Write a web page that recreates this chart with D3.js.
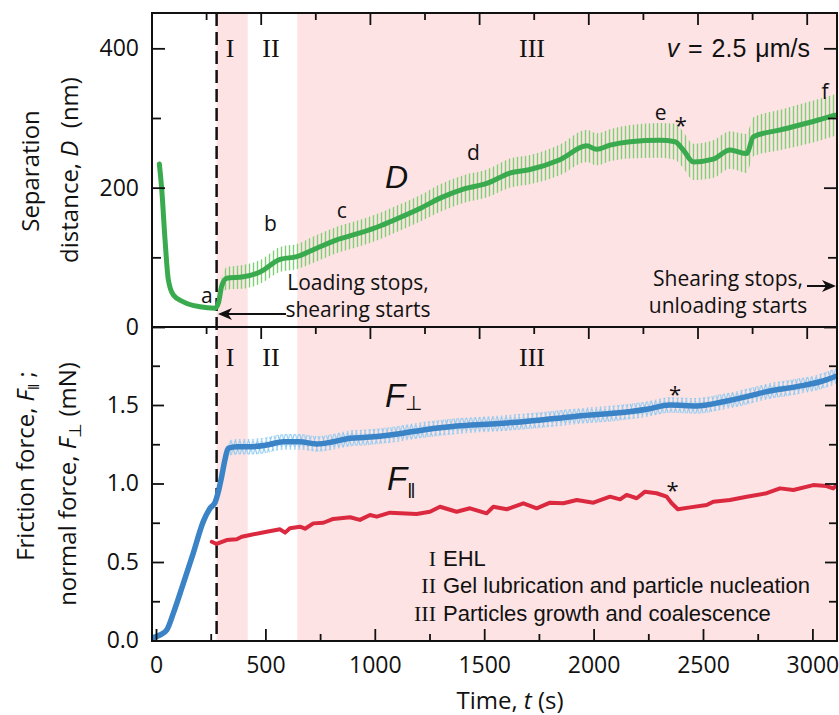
<!DOCTYPE html>
<html>
<head>
<meta charset="utf-8">
<script src="https://cdn.jsdelivr.net/npm/d3@7"></script>
<style>
  body { margin: 0; background: #fff; }
  text { fill: #111; }
</style>
</head>
<body>
<div id="chart"></div>
<script>
// ---- values ----
// separation distance D (nm) vs time (s), top panel
const dTime = [36, 47, 62, 77, 100, 146, 222, 291, 306, 321, 344, 420, 497, 588, 665, 756, 848, 955, 1046, 1092, 1229, 1321, 1428, 1535, 1641, 1733, 1870, 1993, 2038, 2099, 2191, 2328, 2397, 2435, 2481, 2572, 2649, 2725, 2756, 2880, 3030, 3129];
const dValue = [234, 197, 125, 68, 46, 36, 29, 27, 34, 58, 70, 72, 79, 97, 101, 113, 125, 135, 145, 151, 170, 185, 198, 206, 221, 226, 240, 260, 255, 261, 266, 268, 266, 254, 237, 241, 254, 249, 273, 283, 295, 304];
// half-width of the raw oscillation around D (nm)
const dSpread = [0, 0, 0, 0, 0, 0, 0, 0, 0, 12, 16, 17, 17, 18, 18, 19, 19, 19, 19, 19, 19, 20, 20, 20, 21, 21, 22, 23, 23, 23, 24, 25, 26, 26, 26, 27, 27, 28, 28, 29, 30, 30];

// normal force F_perp (mN)
const nTime = [-10, 18, 49, 79, 125, 170, 216, 247, 270, 285, 300, 315, 330, 369, 430, 506, 582, 658, 734, 810, 887, 963, 1069, 1222, 1374, 1527, 1679, 1831, 1984, 2090, 2243, 2349, 2471, 2593, 2700, 2791, 2928, 3035, 3111];
const nValue = [0.02, 0.035, 0.067, 0.173, 0.364, 0.555, 0.757, 0.842, 0.880, 0.948, 1.043, 1.150, 1.224, 1.234, 1.234, 1.245, 1.266, 1.266, 1.252, 1.266, 1.288, 1.294, 1.309, 1.341, 1.366, 1.379, 1.394, 1.415, 1.436, 1.447, 1.473, 1.500, 1.494, 1.521, 1.553, 1.585, 1.617, 1.648, 1.685];
const nSpread = [0, 0, 0, 0, 0, 0, 0, 0, 0, 0, 0, 0, 0.05, 0.05, 0.05, 0.05, 0.05, 0.05, 0.05, 0.05, 0.05, 0.05, 0.05, 0.05, 0.05, 0.05, 0.05, 0.05, 0.05, 0.05, 0.05, 0.05, 0.05, 0.05, 0.05, 0.05, 0.05, 0.05, 0.05];

// friction force F_par (mN)
const fTime = [255, 277, 323, 369, 392, 430, 506, 567, 590, 612, 658, 681, 719, 765, 810, 887, 932, 978, 1009, 1069, 1191, 1252, 1298, 1374, 1435, 1511, 1542, 1603, 1679, 1740, 1801, 1862, 1923, 1999, 2075, 2121, 2151, 2197, 2235, 2288, 2334, 2357, 2385, 2441, 2517, 2547, 2623, 2700, 2791, 2852, 2913, 3004, 3065, 3095, 3111];
const fValue = [0.629, 0.615, 0.640, 0.645, 0.661, 0.672, 0.693, 0.708, 0.687, 0.715, 0.725, 0.712, 0.746, 0.750, 0.774, 0.785, 0.768, 0.799, 0.789, 0.814, 0.806, 0.820, 0.852, 0.820, 0.842, 0.810, 0.852, 0.836, 0.874, 0.842, 0.878, 0.874, 0.895, 0.878, 0.916, 0.899, 0.927, 0.906, 0.948, 0.938, 0.916, 0.874, 0.836, 0.848, 0.863, 0.884, 0.895, 0.916, 0.938, 0.969, 0.959, 0.990, 0.984, 0.969, 0.990];

// regime boundaries (s): shearing starts, end of I, end of II
const phaseEdges = [277, 419, 646];

const xTicks = [0, 500, 1000, 1500, 2000, 2500, 3000];
const xMinor = [250, 750, 1250, 1750, 2250, 2750];
const dTicks = [0, 200, 400];
const dMinor = [100, 300];
const fTicks = [0, 0.5, 1.0, 1.5];
const fMinor = [0.25, 0.75, 1.25, 1.75];

// point labels: [text, time, value]
const dLabels = [["a", 253, 34], ["b", 545, 138], ["c", 871, 156], ["d", 1474, 240], ["e", 2331, 297], ["f", 3084, 327]];
const dStars = [[2424, 278]];
const fStars = [[2372, 1.521], [2361, 0.905]];

const legendRows = [["I", "EHL"], ["II", "Gel lubrication and particle nucleation"], ["III", "Particles growth and coalescence"]];

// ---- layout ----
const width = 839, height = 715;
const pL = 152, pR = 837, pT = 13, pM = 327, pB = 641;

const svg = d3.select("#chart").append("svg")
  .attr("width", width)
  .attr("height", height)
  .style("font-family", "'Open Sans', sans-serif");

// the two panels were stacked by hand, their time axes are off by a few px
const xTop = d3.scaleLinear().domain([0, 3000]).range([151.5, 806.7]);
const xBot = d3.scaleLinear().domain([0, 3000]).range([156, 812.4]);
const yTop = d3.scaleLinear().domain([0, 450]).range([pM, pT + 0.5]);
const yBot = d3.scaleLinear().domain([0, 2]).range([pB - 0.5, pM - 0.5]);

const defs = svg.append("defs");
defs.append("clipPath").attr("id", "clipTop").append("rect")
  .attr("x", pL).attr("y", pT).attr("width", pR - pL).attr("height", pM - pT);
defs.append("clipPath").attr("id", "clipBot").append("rect")
  .attr("x", pL).attr("y", pM).attr("width", pR - pL).attr("height", pB - pM);

// vertical hatch for the raw D signal
let pat = defs.append("pattern").attr("id", "greenHatch")
  .attr("patternUnits", "userSpaceOnUse").attr("width", 4).attr("height", 8);
pat.append("line").attr("x1", 1.5).attr("x2", 1.5).attr("y1", 0).attr("y2", 8)
  .attr("stroke", "#7fd074").attr("stroke-width", 1.4);

// zig-zag look for the raw normal force
pat = defs.append("pattern").attr("id", "blueHatch")
  .attr("patternUnits", "userSpaceOnUse").attr("width", 4.4).attr("height", 16);
pat.append("path").attr("d", "M0,0L4.4,16M4.4,0L0,16")
  .attr("stroke", "#88c9f2").attr("stroke-width", 1).attr("fill", "none");

// ---- shading of the regimes ----
const shaded = [[phaseEdges[0], phaseEdges[1]], [phaseEdges[2], xBot.invert(pR)]];
[[pT, pM], [pM, pB]].forEach(([y0, y1]) => {
  svg.append("g").selectAll("rect")
    .data(shaded)
    .join("rect")
      .attr("x", d => xBot(d[0]))
      .attr("width", d => xBot(d[1]) - xBot(d[0]))
      .attr("y", y0)
      .attr("height", y1 - y0)
      .attr("fill", "#fde3e3");
});

// dashed line where shearing starts
svg.append("line")
  .attr("x1", xBot(phaseEdges[0])).attr("x2", xBot(phaseEdges[0]))
  .attr("y1", pT).attr("y2", pB)
  .attr("stroke", "#111").attr("stroke-width", 2.5)
  .attr("stroke-dasharray", "13,6");

// ---- top panel data ----
const dData = dTime.map((t, i) => ({t: t, v: dValue[i], s: dSpread[i]}));
const gTop = svg.append("g").attr("clip-path", "url(#clipTop)");

gTop.append("path")
  .datum(dData)
  .attr("fill", "url(#greenHatch)")
  .attr("d", d3.area()
    .defined(d => d.s > 0)
    .x(d => xTop(d.t))
    .y0(d => yTop(d.v - d.s))
    .y1(d => yTop(d.v + d.s))
    .curve(d3.curveMonotoneX));

gTop.append("path")
  .datum(dData)
  .attr("fill", "none")
  .attr("stroke", "#3aaa4f")
  .attr("stroke-width", 5)
  .attr("stroke-linejoin", "round")
  .attr("stroke-linecap", "round")
  .attr("d", d3.line().x(d => xTop(d.t)).y(d => yTop(d.v)).curve(d3.curveMonotoneX));

// ---- bottom panel data ----
const nData = nTime.map((t, i) => ({t: t, v: nValue[i], s: nSpread[i]}));
const fData = fTime.map((t, i) => ({t: t, v: fValue[i]}));
const gBot = svg.append("g").attr("clip-path", "url(#clipBot)");

gBot.append("path")
  .datum(nData)
  .attr("fill", "url(#blueHatch)")
  .attr("d", d3.area()
    .defined(d => d.s > 0)
    .x(d => xBot(d.t))
    .y0(d => yBot(d.v - d.s))
    .y1(d => yBot(d.v + d.s))
    .curve(d3.curveMonotoneX));

gBot.append("path")
  .datum(nData)
  .attr("fill", "none")
  .attr("stroke", "#3a83c6")
  .attr("stroke-width", 5.5)
  .attr("stroke-linejoin", "round")
  .attr("stroke-linecap", "round")
  .attr("d", d3.line().x(d => xBot(d.t)).y(d => yBot(d.v)).curve(d3.curveMonotoneX));

gBot.append("path")
  .datum(fData)
  .attr("fill", "none")
  .attr("stroke", "#db2a40")
  .attr("stroke-width", 4)
  .attr("stroke-linejoin", "round")
  .attr("stroke-linecap", "round")
  .attr("d", d3.line().x(d => xBot(d.t)).y(d => yBot(d.v)));

// ---- axes ----
function ticks(axis, pos, vals, size, fmt, pad) {
  const g = svg.append("g")
    .attr("transform", pos)
    .call(axis.tickValues(vals).tickSize(size).tickPadding(pad || 3)
      .tickFormat(fmt || ""));
  g.select(".domain").remove();
  g.selectAll(".tick line").attr("stroke", "#111").attr("stroke-width", 1.8);
  g.selectAll("text").attr("font-size", 23).attr("fill", "#111")
    .attr("font-family", "'Open Sans', sans-serif");
  return g;
}

// top panel
ticks(d3.axisLeft(yTop), `translate(${pL},0)`, dTicks, -13, d3.format("d"), 13);
ticks(d3.axisLeft(yTop), `translate(${pL},0)`, dMinor, -9);
ticks(d3.axisRight(yTop), `translate(${pR},0)`, dTicks, -13);
ticks(d3.axisRight(yTop), `translate(${pR},0)`, dMinor, -9);
ticks(d3.axisTop(xTop), `translate(0,${pT})`, xTicks, -12);
ticks(d3.axisTop(xTop), `translate(0,${pT})`, xMinor, -7);
ticks(d3.axisBottom(xTop), `translate(0,${pM})`, xTicks, 12);
ticks(d3.axisBottom(xTop), `translate(0,${pM})`, xMinor, 7);

// bottom panel
ticks(d3.axisLeft(yBot), `translate(${pL},0)`, fTicks, -12, d3.format(".1f"), 13);
ticks(d3.axisLeft(yBot), `translate(${pL},0)`, fMinor, -8);
ticks(d3.axisRight(yBot), `translate(${pR},0)`, fTicks, -12);
ticks(d3.axisRight(yBot), `translate(${pR},0)`, fMinor, -8);
ticks(d3.axisBottom(xBot), `translate(0,${pB})`, xTicks, -12, d3.format("d"), 16);
ticks(d3.axisBottom(xBot), `translate(0,${pB})`, xMinor, -7);

// frames
[[pT, pM], [pM, pB]].forEach(([y0, y1]) => {
  svg.append("rect")
    .attr("x", pL).attr("y", y0)
    .attr("width", pR - pL).attr("height", y1 - y0)
    .attr("fill", "none").attr("stroke", "#111").attr("stroke-width", 2);
});

// ---- axis titles ----
function vtext(x, y, anchor) {
  return svg.append("text")
    .attr("transform", `translate(${x},${y}) rotate(-90)`)
    .attr("text-anchor", anchor)
    .attr("font-size", 24);
}
vtext(39, 171, "middle").text("Separation");
let tt = vtext(78, 170, "middle");
tt.append("tspan").text("distance, ");
tt.append("tspan").attr("font-style", "italic").text("D");
tt.append("tspan").text("\u00a0 (nm)");

tt = vtext(34, 466, "middle");
tt.append("tspan").text("Friction force, ");
tt.append("tspan").attr("font-style", "italic").text("F");
tt.append("tspan").attr("font-size", 15).attr("dy", 5).text("\u2016");
tt.append("tspan").attr("dy", -5).text(" ;");

tt = vtext(76, 484, "middle");
tt.append("tspan").text("normal force, ");
tt.append("tspan").attr("font-style", "italic").text("F");
tt.append("tspan").attr("font-size", 17).attr("dy", 5).text("\u22a5");
tt.append("tspan").attr("dy", -5).text(" (mN)");

tt = svg.append("text")
  .attr("x", 510).attr("y", 709)
  .attr("text-anchor", "middle")
  .attr("font-size", 24);
tt.append("tspan").text("Time, ");
tt.append("tspan").attr("font-style", "italic").text("t");
tt.append("tspan").text(" (s)");

// ---- regime numerals ----
const numerals = ["I", "II", "III"];
const numeralX = [230, 271, 532];
[57, 366].forEach(y => {
  svg.append("g").selectAll("text")
    .data(numerals)
    .join("text")
      .attr("x", (d, i) => numeralX[i])
      .attr("y", y)
      .attr("text-anchor", "middle")
      .attr("font-family", "'Liberation Serif', serif")
      .attr("font-size", 26)
      .text(d => d);
});

// ---- annotations ----
tt = svg.append("text")
  .attr("x", 810).attr("y", 57)
  .attr("text-anchor", "end")
  .attr("font-family", "'Liberation Sans', Arial, sans-serif")
  .attr("font-size", 25)
  .attr("word-spacing", 2);
tt.append("tspan").attr("font-style", "italic").text("v");
tt.append("tspan").text(" = 2.5 \u03bcm/s");

svg.append("text")
  .attr("x", 385).attr("y", 188)
  .attr("font-family", "'Liberation Sans', Arial, sans-serif")
  .attr("font-style", "italic")
  .attr("font-size", 32)
  .text("D");

tt = svg.append("text")
  .attr("x", 385).attr("y", 407)
  .attr("font-family", "'Liberation Sans', Arial, sans-serif")
  .attr("font-size", 33);
tt.append("tspan").attr("font-style", "italic").text("F");
tt.append("tspan").attr("font-size", 20).attr("dy", 3).text("\u22a5");

tt = svg.append("text")
  .attr("x", 387).attr("y", 490)
  .attr("font-family", "'Liberation Sans', Arial, sans-serif")
  .attr("font-size", 33);
tt.append("tspan").attr("font-style", "italic").text("F");
tt.append("tspan").attr("font-size", 20).attr("dy", 8).text("\u2016");

svg.append("g").selectAll("text")
  .data(dLabels)
  .join("text")
    .attr("x", d => xTop(d[1]))
    .attr("y", d => yTop(d[2]))
    .attr("text-anchor", "middle")
    .attr("font-size", 21)
    .text(d => d[0]);

svg.append("g").selectAll("text")
  .data(dStars)
  .join("text")
    .attr("x", d => xTop(d[0]))
    .attr("y", d => yTop(d[1]))
    .attr("text-anchor", "middle")
    .attr("font-size", 22)
    .text("*");

svg.append("g").selectAll("text")
  .data(fStars)
  .join("text")
    .attr("x", d => xBot(d[0]))
    .attr("y", d => yBot(d[1]))
    .attr("text-anchor", "middle")
    .attr("font-size", 22)
    .text("*");

// loading / shearing notes
function note(x, y, lines) {
  svg.append("g").selectAll("text")
    .data(lines)
    .join("text")
      .attr("x", x)
      .attr("y", (d, i) => y + i * 27)
      .attr("text-anchor", "middle")
      .attr("font-size", 21)
      .text(d => d);
}
note(358, 290, ["Loading stops,", "shearing starts"]);
note(728, 286, ["Shearing stops,", "unloading starts"]);

function arrow(x1, x2, y) {
  const dir = x2 > x1 ? 1 : -1;
  svg.append("line")
    .attr("x1", x1).attr("x2", x2 - dir * 10).attr("y1", y).attr("y2", y)
    .attr("stroke", "#111").attr("stroke-width", 2);
  svg.append("path")
    .attr("d", `M${x2},${y}L${x2 - dir * 14},${y - 6}L${x2 - dir * 10},${y}L${x2 - dir * 14},${y + 6}Z`)
    .attr("fill", "#111");
}
arrow(286, 218, 314);
arrow(807, 836, 286);

// regime legend
const lg = svg.append("g").selectAll("g")
  .data(legendRows)
  .join("g")
    .attr("transform", (d, i) => `translate(0,${566 + i * 27.4})`);
lg.append("text")
  .attr("x", 436)
  .attr("text-anchor", "end")
  .attr("font-family", "'Liberation Serif', serif")
  .attr("font-size", 22)
  .text(d => d[0]);
lg.append("text")
  .attr("x", 443)
  .attr("font-family", "'Liberation Sans', Arial, sans-serif")
  .attr("font-size", 22)
  .text(d => d[1]);
</script>
</body>
</html>
